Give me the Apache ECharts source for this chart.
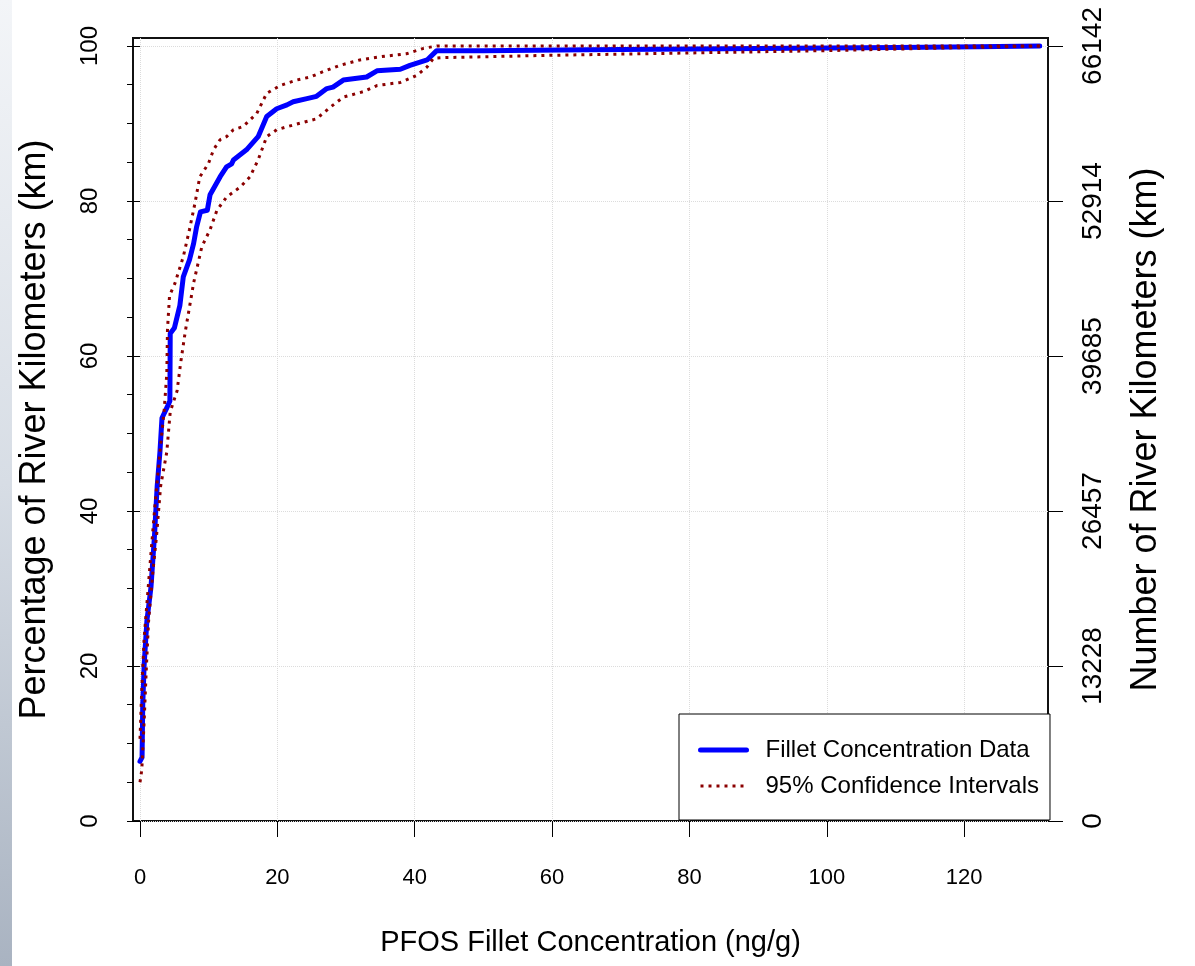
<!DOCTYPE html>
<html>
<head>
<meta charset="utf-8">
<script src="https://cdn.jsdelivr.net/npm/echarts@6/dist/echarts.min.js"></script>
<style>
  html, body { margin: 0; padding: 0; background: #fff; }
  #wrap { position: relative; width: 1195px; height: 966px; }
  #strip { position: absolute; left: 0; top: 0; width: 12px; height: 966px;
           background: linear-gradient(to bottom, #f3f5f8 0%, #d7dde5 50%, #a9b3c1 100%); }
  #chart { position: absolute; left: 0; top: 0; width: 1195px; height: 966px; }
</style>
</head>
<body>
<div id="wrap"><div id="strip"></div><div id="chart"></div></div>
<script>
// ---- data ----
const fitX = [0, 0.3, 0.4, 0.6, 1.0, 1.6, 2.1, 2.5, 2.9, 3.2, 3.9, 4.35, 4.4, 5.0, 5.8, 6.3, 7.2, 7.8, 8.25, 8.8, 9.8, 10.2, 11.65, 12.6, 13.35, 13.6, 15.5, 17.2, 18.45, 19.9, 21.4, 22.3, 24.3, 25.7, 27.2, 28.1, 29.6, 33.0, 34.5, 37.9, 39.3, 41.8, 43.2, 50, 65, 80, 95, 110, 122, 131];
const fitPct = [7.7, 8.2, 15.0, 20.1, 25.8, 30.2, 36.7, 43.2, 47.6, 52.0, 53.3, 54.2, 62.9, 63.6, 66.5, 70.2, 72.4, 74.5, 76.7, 78.6, 78.8, 80.8, 83.1, 84.4, 84.8, 85.3, 86.6, 88.3, 90.9, 91.9, 92.4, 92.8, 93.2, 93.5, 94.5, 94.7, 95.6, 96.0, 96.8, 97.0, 97.5, 98.2, 99.4, 99.4, 99.5, 99.6, 99.7, 99.8, 99.9, 100];

const upperX = [0, 0.26, 0.6, 1.0, 1.6, 2.2, 2.9, 3.5, 3.9, 4.0, 4.3, 5.1, 6.3, 7.2, 8.0, 8.7, 9.95, 10.7, 11.65, 12.6, 13.6, 15.0, 17.0, 18.45, 20.4, 22.8, 24.8, 26.7, 29.1, 32.0, 34.9, 38.8, 41.3, 43.2, 131];
const upperPct = [10.6, 17.1, 23.6, 28.0, 34.6, 41.0, 47.6, 52.8, 57.7, 63.4, 67.8, 69.4, 72.8, 76.3, 79.7, 83.1, 84.8, 86.6, 87.9, 88.3, 89.2, 89.6, 91.3, 93.9, 94.9, 95.6, 96.0, 96.7, 97.5, 98.2, 98.6, 99.0, 99.7, 100, 100];

const lowerX = [0, 0.26, 0.6, 0.9, 1.25, 1.9, 2.4, 3.0, 3.9, 4.4, 5.4, 5.9, 6.6, 7.4, 7.8, 9.0, 10.2, 11.2, 12.6, 14.6, 16.0, 17.2, 18.45, 19.9, 22.3, 25.7, 27.7, 29.6, 32.5, 34.5, 37.9, 40.3, 41.8, 42.7, 44.2, 60, 80, 100, 115, 131];
const lowerPct = [5.0, 6.6, 12.8, 19.3, 25.8, 32.4, 36.7, 43.2, 47.6, 52.8, 55.5, 59.0, 63.2, 67.3, 69.4, 74.1, 76.3, 78.8, 80.5, 81.8, 83.1, 85.3, 88.3, 89.2, 89.8, 90.6, 92.1, 93.4, 94.1, 94.9, 95.3, 96.2, 97.3, 98.4, 98.5, 98.8, 99.1, 99.4, 99.7, 100];

const xTicks = [0, 20, 40, 60, 80, 100, 120];
const pctTicks = [0, 20, 40, 60, 80, 100];
const pctMinorTicks = [5, 10, 15, 25, 30, 35, 45, 50, 55, 65, 70, 75, 85, 90, 95];
const kmTickLabels = ['0', '13228', '26457', '39685', '52914', '66142'];

const seriesNames = ['Fillet Concentration Data', '95% Confidence Intervals'];

// ---- build ----
const zip = (xs, ys) => xs.map((x, i) => [x, ys[i]]);
const FONT = "'Liberation Sans', Arial, Helvetica, sans-serif";

const chart = echarts.init(document.getElementById('chart'), null, { renderer: 'canvas' });
chart.setOption({
  animation: false,
  backgroundColor: 'transparent',
  textStyle: { fontFamily: FONT, color: '#000' },
  grid: { left: 133, right: 147, top: 38, bottom: 145, show: true, borderColor: '#111', borderWidth: 2, backgroundColor: 'transparent' },
  legend: {
    orient: 'vertical', left: 679, top: 714,
    itemWidth: 46, itemHeight: 14, itemGap: 12,
    padding: [24, 11, 22, 19],
    borderColor: '#000', borderWidth: 1, backgroundColor: '#fff', borderRadius: 0,
    itemStyle: { opacity: 0 },
    textStyle: { fontFamily: FONT, fontSize: 24, color: '#000', lineHeight: 24, padding: [0, 0, 0, 14] },
    data: [
      { name: seriesNames[0], lineStyle: { width: 5 } },
      { name: seriesNames[1], lineStyle: { width: 3 } }
    ]
  },
  xAxis: {
    type: 'value', min: -1.02, max: 132.2,
    name: 'PFOS Fillet Concentration (ng/g)', nameLocation: 'middle', nameGap: 107,
    nameTextStyle: { fontFamily: FONT, fontSize: 29, color: '#000' },
    axisLine: { show: false },
    axisTick: { show: true, customValues: xTicks, length: 16, lineStyle: { color: '#000', width: 1 } },
    axisLabel: { customValues: xTicks, fontFamily: FONT, fontSize: 22, color: '#000', margin: 46 },
    splitLine: { show: true, lineStyle: { color: '#dcdcdc', type: 'dotted', width: 1 } }
  },
  yAxis: [
    {
      type: 'value', min: 0, max: 101.03, position: 'left',
      name: 'Percentage of River Kilometers (km)', nameLocation: 'middle', nameGap: 80, nameRotate: 90,
      nameTextStyle: { fontFamily: FONT, fontSize: 36, color: '#000' },
      axisLine: { show: false },
      axisTick: { show: true, customValues: pctTicks, length: 13, lineStyle: { color: '#000', width: 1 } },
      axisLabel: { customValues: pctTicks, rotate: 90, fontFamily: FONT, fontSize: 24, color: '#000', margin: 31 },
      splitLine: { show: true, lineStyle: { color: '#dcdcdc', type: 'dotted', width: 1 } }
    },
    {
      type: 'value', min: 0, max: 101.03, position: 'left',
      axisLine: { show: false },
      axisTick: { show: true, customValues: pctMinorTicks, length: 6, lineStyle: { color: '#000', width: 1 } },
      axisLabel: { show: false },
      splitLine: { show: false }
    },
    {
      type: 'value', min: 0, max: 101.03, position: 'right',
      name: 'Number of River Kilometers (km)', nameLocation: 'middle', nameGap: 80, nameRotate: 90,
      nameTextStyle: { fontFamily: FONT, fontSize: 36, color: '#000' },
      axisLine: { show: false },
      axisTick: { show: true, customValues: pctTicks, length: 15, lineStyle: { color: '#000', width: 1 } },
      axisLabel: {
        customValues: pctTicks, rotate: 90, fontFamily: FONT, fontSize: 28, color: '#000', margin: 31,
        formatter: (v) => { const i = pctTicks.indexOf(Math.round(v)); return i >= 0 ? kmTickLabels[i] : ''; }
      },
      splitLine: { show: false }
    }
  ],
  series: [
    {
      name: seriesNames[0], type: 'line', yAxisIndex: 0,
      data: zip(fitX, fitPct), showSymbol: false, symbol: 'none',
      lineStyle: { color: '#0000ff', width: 5, cap: 'round', join: 'round' },
      itemStyle: { color: '#0000ff' }, z: 3
    },
    {
      name: seriesNames[1], type: 'line', yAxisIndex: 0,
      data: zip(upperX, upperPct), showSymbol: false, symbol: 'none',
      lineStyle: { color: '#8b0000', width: 3, type: [3, 5] },
      itemStyle: { color: '#8b0000' }, z: 4
    },
    {
      name: seriesNames[1], type: 'line', yAxisIndex: 0,
      data: zip(lowerX, lowerPct), showSymbol: false, symbol: 'none',
      lineStyle: { color: '#8b0000', width: 3, type: [3, 5] },
      itemStyle: { color: '#8b0000' }, z: 4
    }
  ]
});
</script>
</body>
</html>
